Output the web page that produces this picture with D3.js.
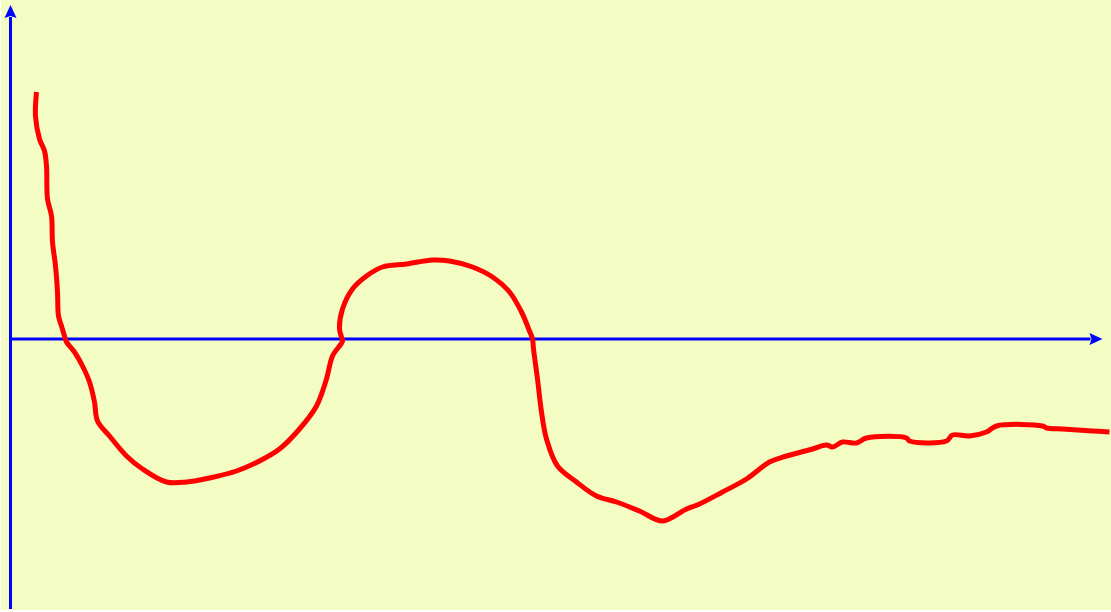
<!DOCTYPE html>
<html>
<head>
<meta charset="utf-8">
<script src="https://cdn.jsdelivr.net/npm/d3@7"></script>
<style>
  html, body { margin: 0; padding: 0; background: #ffffff; }
  svg { display: block; }
</style>
</head>
<body>
<svg id="chart" width="1111" height="612"></svg>
<script>
// Data (x: horizontal position along axis, y: signed value, 0 = x-axis)
const xValues = [26,25,29,34,36,37,41,42,45,47,48,51,54,56,64,72,79,84,87,99,116,132,156,176,199,226,249,269,289,306,316,322,332,331,329,332,342,356,372,396,422,439,462,482,499,511,519,522,523,527,531,536,547,566,586,606,629,652,676,689,712,736,759,776,802,816,822,832,846,856,896,899,936,942,959,976,986,1032,1036,1052,1082,1099];
const yValues = [247,223,200,188,173,140,123,97,73,47,23,13,3,-3,-13,-27,-43,-63,-82,-97,-117,-130,-143,-143,-139,-132,-122,-110,-90,-67,-40,-17,-2,2,10,30,50,63,72,75,79,78,72,62,47,27,8,0,-10,-40,-73,-100,-127,-143,-157,-163,-172,-182,-170,-165,-153,-140,-123,-117,-110,-106,-108,-103,-104,-99,-99,-102,-102,-96,-97,-93,-87,-87,-89,-90,-92,-93];

const W = 1111, H = 612;
const svg = d3.select("#chart");

const x = d3.scaleLinear().domain([0, 1092]).range([10.5, 1102.5]);
const y = d3.scaleLinear().domain([-270, 334]).range([609, 5]);

// background
svg.append("rect")
  .attr("x", 1).attr("y", 0)
  .attr("width", W - 1).attr("height", H - 2)
  .attr("fill", "#f3fcc2");

const axisColor = "#0000ff";

// y axis
svg.append("line")
  .attr("x1", x(0)).attr("x2", x(0))
  .attr("y1", y(-270)).attr("y2", y(322))
  .attr("stroke", axisColor).attr("stroke-width", 3);
svg.append("path")
  .attr("d", `M${x(0)},${y(334)} L${x(0) + 6},${y(321)} L${x(0)},${y(323)} L${x(0) - 6},${y(321)} Z`)
  .attr("fill", axisColor);

// x axis
svg.append("line")
  .attr("x1", x(0)).attr("x2", x(1080))
  .attr("y1", y(0)).attr("y2", y(0))
  .attr("stroke", axisColor).attr("stroke-width", 3);
svg.append("path")
  .attr("d", `M${x(1092)},${y(0)} L${x(1079)},${y(0) - 6} L${x(1081)},${y(0)} L${x(1079)},${y(0) + 6} Z`)
  .attr("fill", axisColor);

// curve
const pts = xValues.map((v, i) => [v, yValues[i]]);
const line = d3.line()
  .x(d => x(d[0]))
  .y(d => y(d[1]))
  .curve(d3.curveCatmullRom.alpha(0.5));

svg.append("path")
  .datum(pts)
  .attr("d", line)
  .attr("fill", "none")
  .attr("stroke", "#ff0000")
  .attr("stroke-width", 5)
  .attr("stroke-linejoin", "round")
  .attr("stroke-linecap", "butt");
</script>
</body>
</html>
